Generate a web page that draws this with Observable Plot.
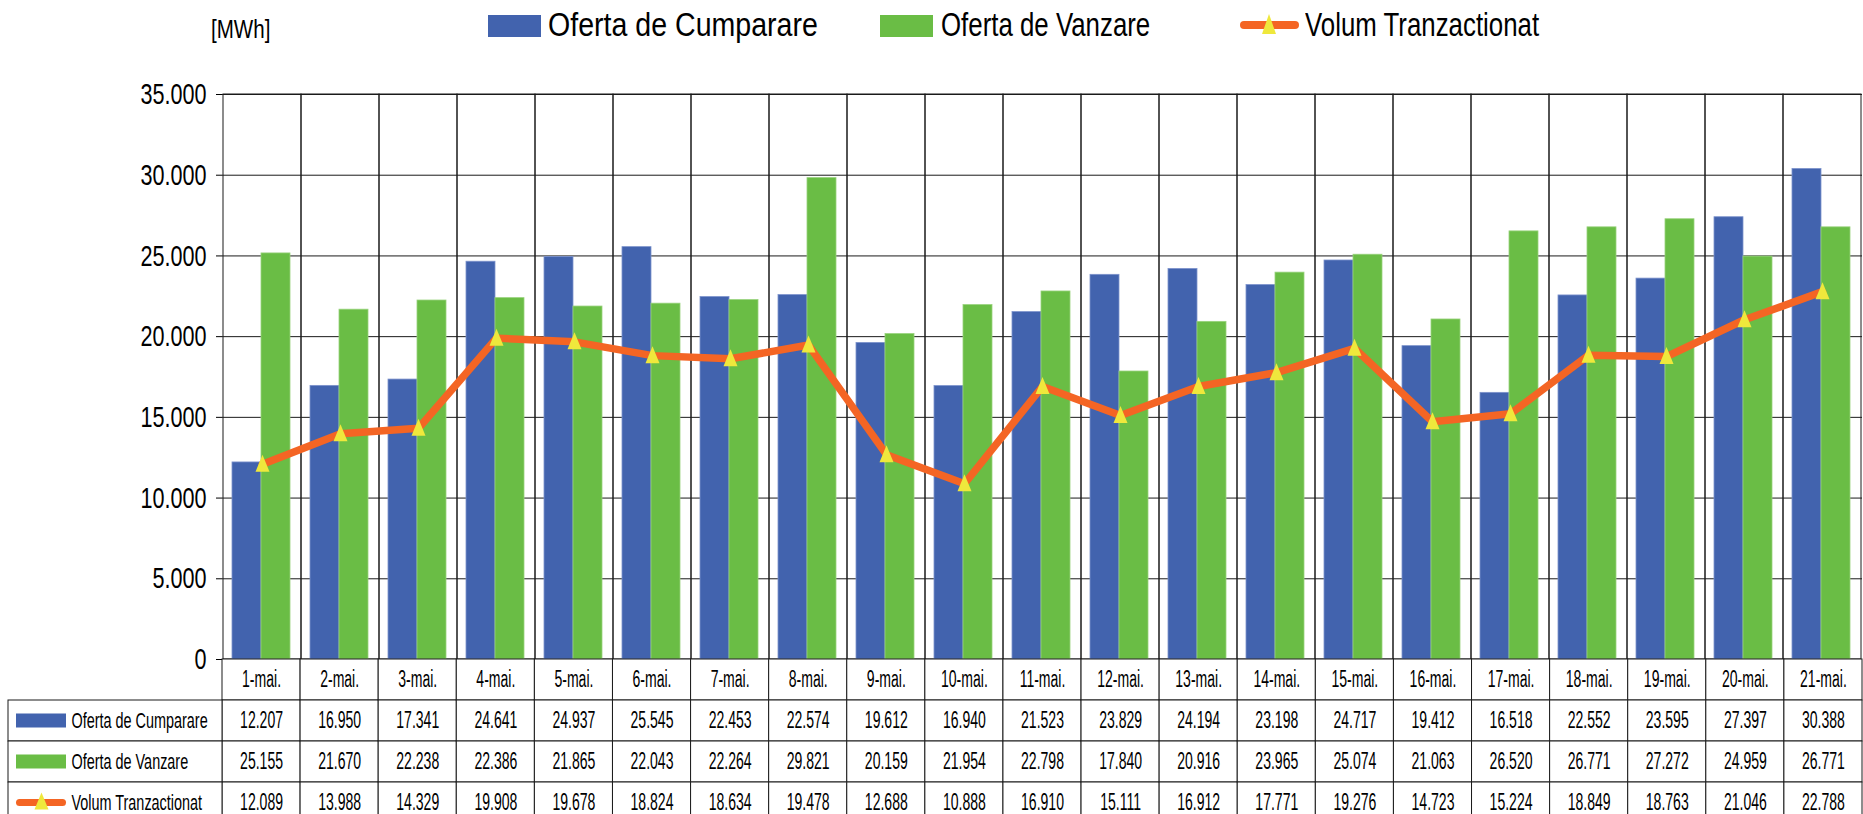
<!DOCTYPE html>
<html>
<head>
<meta charset="utf-8">
<script src="https://cdn.jsdelivr.net/npm/d3@7"></script>
<script src="https://cdn.jsdelivr.net/npm/@observablehq/plot@0.6"></script>
<style>
html, body { margin: 0; padding: 0; background: #fff; }
#wrap { position: relative; width: 1863px; height: 814px; overflow: hidden; background: #fff;
  font-family: "Liberation Sans", Arial, sans-serif; color: #000; }
#main, #tbl { position: absolute; left: 0; }
#main { top: 0; }
#tbl { top: 658px; }
.lg { position: absolute; white-space: nowrap; transform-origin: 0 0; }
.lgtext { font-size: 34px; line-height: 34px; top: 7px; }
.sw { position: absolute; }
#unit { font-size: 26px; line-height: 26px; left: 211px; top: 16px; transform: scaleX(0.79); }
</style>
</head>
<body>
<div id="wrap">
  <div id="main"></div>
  <div id="tbl"></div>
  <div id="legend"></div>
</div>
<script>
// ---------- data ----------
const days = ["1-mai.","2-mai.","3-mai.","4-mai.","5-mai.","6-mai.","7-mai.","8-mai.","9-mai.","10-mai.","11-mai.","12-mai.","13-mai.","14-mai.","15-mai.","16-mai.","17-mai.","18-mai.","19-mai.","20-mai.","21-mai."];
const cumparare = [12207,16950,17341,24641,24937,25545,22453,22574,19612,16940,21523,23829,24194,23198,24717,19412,16518,22552,23595,27397,30388];
const vanzare   = [25155,21670,22238,22386,21865,22043,22264,29821,20159,21954,22798,17840,20916,23965,25074,21063,26520,26771,27272,24959,26771];
const volum     = [12089,13988,14329,19908,19678,18824,18634,19478,12688,10888,16910,15111,16912,17771,19276,14723,15224,18849,18763,21046,22788];
const seriesNames = ["Oferta de Cumparare","Oferta de Vanzare","Volum Tranzactionat"];
const yTicks = [0,5000,10000,15000,20000,25000,30000,35000];
const yMax = 35000;
const unitLabel = "[MWh]";

// ---------- style ----------
const FONT = '"Liberation Sans", Arial, sans-serif';
const BLUE = "#4263ae", GREEN = "#6abd45", ORANGE = "#f46524", YELLOW = "#efe83c", GRID = "#1a1a1a";
const W = 1863, L = 222, R = 1, T = 94, H = 660;
const fmt = d3.formatLocale({decimal: ",", thousands: ".", grouping: [3], currency: ["", ""]}).format(",d");

const tri = {draw(ctx) { ctx.moveTo(0, -9.5); ctx.lineTo(7, 7.5); ctx.lineTo(-7, 7.5); ctx.closePath(); }};

const rows = days.map((d, i) => ({day: d, i, c: cumparare[i], v: vanzare[i], t: volum[i]}));

// condense text horizontally (the reference uses a narrow face)
function squeeze(root, factor, filter) {
  root.querySelectorAll("text").forEach(t => {
    if (filter && !filter(t.textContent)) return;
    const len = t.getComputedTextLength();
    if (len > 0) {
      t.setAttribute("textLength", (len * factor).toFixed(2));
      t.setAttribute("lengthAdjust", "spacingAndGlyphs");
    }
  });
}

// ---------- main chart ----------
const main = Plot.plot({
  width: W, height: H,
  marginLeft: L, marginRight: R, marginTop: T, marginBottom: 1,
  style: {fontFamily: FONT, fontSize: "30px", color: "#000", background: "transparent", overflow: "visible"},
  x: {type: "band", domain: days, padding: 0, axis: null},
  y: {domain: [0, yMax], ticks: yTicks, tickFormat: fmt, label: null, tickSize: 6, tickPadding: 10},
  marks: [
    Plot.gridY(yTicks, {stroke: GRID, strokeOpacity: 1, strokeWidth: 1}),
    Plot.barY(days, {x: d => d, y1: 0, y2: yMax, fill: "none", stroke: GRID, strokeWidth: 1}),
    Plot.barY(rows, {x: "day", y: "c", fill: BLUE, stroke: "#7d93cc", strokeWidth: 0.8, insetLeft: 9, insetRight: 40}),
    Plot.barY(rows, {x: "day", y: "v", fill: GREEN, stroke: "#98d27c", strokeWidth: 0.8, insetLeft: 38, insetRight: 11}),
    Plot.line(rows, {x: "day", y: "t", stroke: ORANGE, strokeWidth: 7.5, strokeLinejoin: "round"}),
    Plot.dot(rows, {x: "day", y: "t", symbol: tri, fill: YELLOW, stroke: "none", r: 5})
  ]
});
document.getElementById("main").appendChild(main);
squeeze(main, 0.72);

// ---------- data table ----------
const tableRows = ["date", ...seriesNames];
const cells = [];
days.forEach((d, i) => {
  cells.push({i, row: "date", text: d});
  cells.push({i, row: seriesNames[0], text: fmt(cumparare[i])});
  cells.push({i, row: seriesNames[1], text: fmt(vanzare[i])});
  cells.push({i, row: seriesNames[2], text: fmt(volum[i])});
});
const colW = (W - L - R) / days.length;
const LU = (L - 8) / colW; // width of the label column in day units

const tbl = Plot.plot({
  width: W, height: 166,
  marginLeft: L, marginRight: R, marginTop: 1, marginBottom: 1,
  style: {fontFamily: FONT, fontSize: "23px", color: "#000", background: "transparent", overflow: "visible"},
  x: {domain: [0, days.length], axis: null},
  y: {type: "band", domain: tableRows, padding: 0, axis: null},
  marks: [
    Plot.barX(cells, {x1: d => d.i, x2: d => d.i + 1, y: "row", fill: "white", stroke: GRID, strokeWidth: 1}),
    Plot.barX(seriesNames, {x1: -LU, x2: 0, y: d => d, fill: "white", stroke: GRID, strokeWidth: 1}),
    Plot.text(cells, {x: d => d.i + 0.5, y: "row", text: "text", fill: "#000"}),
    Plot.barX([seriesNames[0]], {x1: -LU, x2: 0, y: d => d, fill: BLUE, insetLeft: 8, insetRight: 156, insetTop: 13.5, insetBottom: 13.5}),
    Plot.barX([seriesNames[1]], {x1: -LU, x2: 0, y: d => d, fill: GREEN, insetLeft: 8, insetRight: 156, insetTop: 13.5, insetBottom: 13.5}),
    Plot.barX([seriesNames[2]], {x1: -LU, x2: 0, y: d => d, fill: ORANGE, insetLeft: 8, insetRight: 156, insetTop: 17, insetBottom: 17, rx: 3.5}),
    Plot.dot([seriesNames[2]], {x: -LU, y: d => d, dx: 33, dy: -1, symbol: tri, fill: YELLOW, r: 5}),
    Plot.text(seriesNames, {x: -LU, y: d => d, text: d => d, textAnchor: "start", dx: 63, fill: "#000", fontSize: 22})
  ]
});
document.getElementById("tbl").appendChild(tbl);
squeeze(tbl, 0.655, s => seriesNames.includes(s));
squeeze(tbl, 0.61, s => !seriesNames.includes(s));

// ---------- legend (HTML above the plot area) ----------
const legend = document.getElementById("legend");
const legendItems = [
  {name: seriesNames[0], kind: "bar", color: BLUE, sx: 488, tx: 548, sq: 0.84},
  {name: seriesNames[1], kind: "bar", color: GREEN, sx: 880, tx: 941, sq: 0.76},
  {name: seriesNames[2], kind: "line", color: ORANGE, sx: 1240, tx: 1305, sq: 0.76}
];
legendItems.forEach(it => {
  if (it.kind === "bar") {
    const s = document.createElement("div");
    s.className = "sw";
    Object.assign(s.style, {left: it.sx + "px", top: "15px", width: "53px", height: "22px", background: it.color});
    legend.appendChild(s);
  } else {
    const s = document.createElement("div");
    s.className = "sw";
    Object.assign(s.style, {left: it.sx + "px", top: "21px", width: "59px", height: "8px", background: it.color, borderRadius: "4px"});
    legend.appendChild(s);
    const svgNS = "http://www.w3.org/2000/svg";
    const svg = document.createElementNS(svgNS, "svg");
    svg.setAttribute("width", 20); svg.setAttribute("height", 24);
    Object.assign(svg.style, {position: "absolute", left: (it.sx + 19) + "px", top: "13px"});
    const p = document.createElementNS(svgNS, "path");
    p.setAttribute("d", "M10,1 L17,21 L3,21 Z");
    p.setAttribute("fill", YELLOW);
    svg.appendChild(p);
    legend.appendChild(svg);
  }
  const t = document.createElement("div");
  t.className = "lg lgtext";
  t.style.left = it.tx + "px";
  t.style.transform = `scaleX(${it.sq})`;
  t.textContent = it.name;
  legend.appendChild(t);
});
const u = document.createElement("div");
u.className = "lg";
u.id = "unit";
u.textContent = unitLabel;
legend.appendChild(u);
</script>
</body>
</html>
